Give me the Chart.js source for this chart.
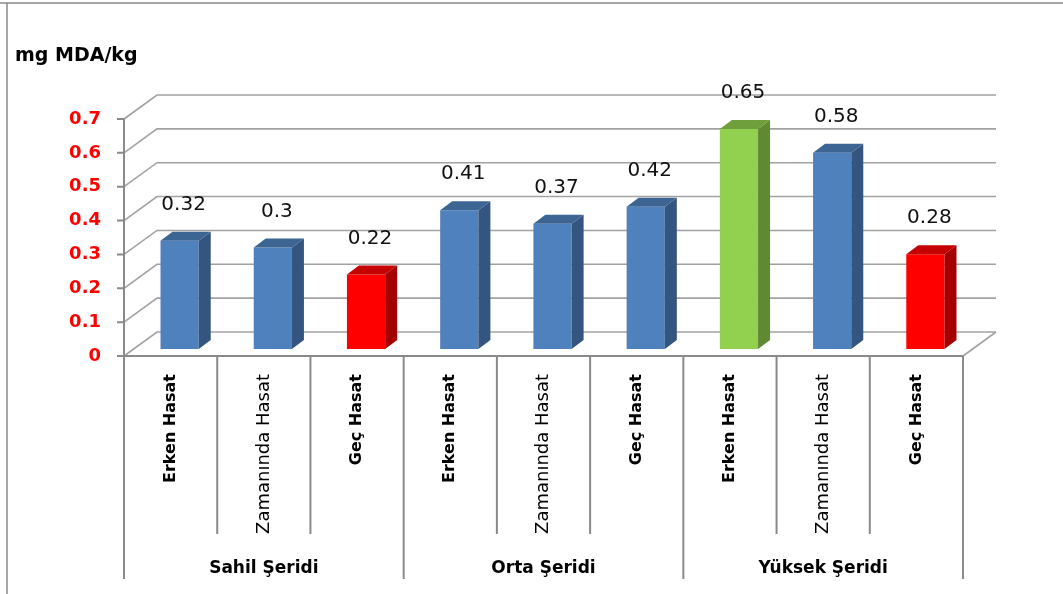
<!DOCTYPE html>
<html>
<head>
<meta charset="utf-8">
<script src="https://cdn.jsdelivr.net/npm/chart.js@4/dist/chart.umd.min.js"></script>
<style>
  html, body { margin: 0; padding: 0; background: #fff; }
  canvas { display: block; }
</style>
</head>
<body>
<canvas id="c" width="1063" height="594"></canvas>
<script>
// Malondialdehit (mg MDA/kg) by harvest time and region
const categories = [
  'Erken Hasat', 'Zamanında Hasat', 'Geç Hasat',
  'Erken Hasat', 'Zamanında Hasat', 'Geç Hasat',
  'Erken Hasat', 'Zamanında Hasat', 'Geç Hasat'
];
const groups = ['Sahil Şeridi', 'Orta Şeridi', 'Yüksek Şeridi'];
const values = [0.32, 0.3, 0.22, 0.41, 0.37, 0.42, 0.65, 0.58, 0.28];
const valueLabels = ['0.32', '0.3', '0.22', '0.41', '0.37', '0.42', '0.65', '0.58', '0.28'];
const yTickLabels = ['0', '0.1', '0.2', '0.3', '0.4', '0.5', '0.6', '0.7'];
const unitLabel = 'mg MDA/kg';

// colour scheme: front, side, top faces
const palette = {
  blue:  ['#4f81bd', '#33557f', '#3d6594'],
  red:   ['#ff0000', '#a50000', '#c40000'],
  green: ['#92d050', '#5f8a33', '#6f9f3c']
};
const barTone = ['blue', 'blue', 'red', 'blue', 'blue', 'blue', 'green', 'blue', 'red'];

// pseudo-3D geometry
const WALL = { dx: 33, dy: 24 };   // depth of side wall / floor
const SHIFT = { dx: 9, dy: 7 };    // bar row sits inside the box
const SIDE = { dx: 12, dy: 9 };    // bar thickness
const GRID = '#a2a2a2';
const AXIS = '#8a8a8a';

const view3d = {
  id: 'view3d',
  beforeDraw(chart) {
    const { ctx, width, height } = chart;
    ctx.save();
    ctx.fillStyle = '#fff';
    ctx.fillRect(0, 0, width, height);
    ctx.strokeStyle = AXIS;
    ctx.lineWidth = 1.5;
    ctx.beginPath();
    ctx.moveTo(0, 3); ctx.lineTo(width, 3);
    ctx.moveTo(7, 3); ctx.lineTo(7, height);
    ctx.stroke();
    // unit label
    ctx.fillStyle = '#000';
    ctx.font = 'bold 19px "DejaVu Sans"';
    ctx.textBaseline = 'alphabetic';
    ctx.textAlign = 'left';
    ctx.fillText(unitLabel, 15, 61);
    ctx.restore();
  },
  beforeDatasetsDraw(chart) {
    const { ctx, chartArea: a, scales: { y } } = chart;
    ctx.save();
    ctx.strokeStyle = GRID;
    ctx.lineWidth = 1.6;
    y.ticks.forEach(t => {
      const py = y.getPixelForValue(t.value);
      ctx.beginPath();
      ctx.moveTo(a.left, py);
      ctx.lineTo(a.left + WALL.dx, py - WALL.dy);
      ctx.lineTo(a.right + WALL.dx, py - WALL.dy);
      ctx.stroke();
    });
    // floor right edge
    const p0 = y.getPixelForValue(0);
    ctx.beginPath();
    ctx.moveTo(a.right, p0);
    ctx.lineTo(a.right + WALL.dx, p0 - WALL.dy);
    ctx.stroke();
    ctx.restore();
    // bars are drawn on the inner plane
    ctx.save();
    ctx.translate(SHIFT.dx, -SHIFT.dy);
  },
  afterDatasetsDraw(chart) {
    const { ctx } = chart;
    const meta = chart.getDatasetMeta(0);
    meta.data.forEach((bar, i) => {
      const { x, y, base, width } = bar.getProps(['x', 'y', 'base', 'width'], true);
      const [, side, top] = palette[barTone[i]];
      const r = x + width / 2, l = x - width / 2;
      ctx.fillStyle = side;
      ctx.beginPath();
      ctx.moveTo(r, y);
      ctx.lineTo(r + SIDE.dx, y - SIDE.dy);
      ctx.lineTo(r + SIDE.dx, base - SIDE.dy);
      ctx.lineTo(r, base);
      ctx.closePath();
      ctx.fill();
      ctx.fillStyle = top;
      ctx.beginPath();
      ctx.moveTo(l, y);
      ctx.lineTo(r, y);
      ctx.lineTo(r + SIDE.dx, y - SIDE.dy);
      ctx.lineTo(l + SIDE.dx, y - SIDE.dy);
      ctx.closePath();
      ctx.fill();
    });
    ctx.restore();

    // value labels
    ctx.save();
    ctx.fillStyle = '#111';
    ctx.font = '20px "DejaVu Sans"';
    ctx.textAlign = 'center';
    ctx.textBaseline = 'middle';
    meta.data.forEach((bar, i) => {
      const { x, y } = bar.getProps(['x', 'y'], true);
      ctx.fillText(valueLabels[i], x + SHIFT.dx + 4, y - SHIFT.dy - 36);
    });
    ctx.restore();
  },
  afterDraw(chart) {
    const { ctx, chartArea: a, scales: { x, y, x2 } } = chart;
    ctx.save();
    ctx.strokeStyle = AXIS;
    ctx.lineWidth = 2;
    // value axis with tick marks
    ctx.beginPath();
    ctx.moveTo(a.left, y.getPixelForValue(y.max));
    ctx.lineTo(a.left, a.bottom);
    y.ticks.forEach(t => {
      const py = y.getPixelForValue(t.value);
      ctx.moveTo(a.left - 7, py);
      ctx.lineTo(a.left, py);
    });
    // floor front edge
    ctx.moveTo(a.left, a.bottom);
    ctx.lineTo(a.right, a.bottom);
    ctx.stroke();
    // category separators
    const n = categories.length;
    const per = n / groups.length;
    ctx.beginPath();
    for (let i = 0; i <= n; i++) {
      let px;
      if (i === 0) px = a.left;
      else if (i === n) px = a.right;
      else px = (x.getPixelForValue(i - 1) + x.getPixelForValue(i)) / 2;
      const isGroupEdge = i % per === 0;
      ctx.moveTo(px, a.bottom);
      ctx.lineTo(px, isGroupEdge ? x2.bottom - 5 : x.bottom);
    }
    ctx.stroke();
    ctx.restore();
  }
};

new Chart(document.getElementById('c'), {
  type: 'bar',
  data: {
    labels: categories,
    datasets: [{
      data: values,
      backgroundColor: barTone.map(t => palette[t][0]),
      borderWidth: 0,
      barPercentage: 0.41,
      categoryPercentage: 1
    }]
  },
  options: {
    responsive: false,
    animation: false,
    layout: { padding: { left: 0, top: 119, right: 100, bottom: 10 } },
    plugins: {
      legend: { display: false },
      tooltip: { enabled: false },
      title: { display: false }
    },
    scales: {
      y: {
        min: 0,
        max: 0.7,
        afterFit(s) { s.width = 124; },
        grid: { display: false },
        border: { display: false },
        ticks: {
          stepSize: 0.1,
          padding: 15,
          color: '#ff0000',
          font: { family: 'DejaVu Sans', size: 18, weight: 'bold' },
          callback: v => yTickLabels[Math.round(v * 10)]
        }
      },
      x: {
        weight: 0,
        afterFit(s) { s.height = 178; },
        grid: { display: false },
        border: { display: false },
        ticks: {
          autoSkip: false,
          minRotation: 90,
          maxRotation: 90,
          padding: 10,
          color: '#000',
          font: ctx => (categories[ctx.index] === 'Zamanında Hasat'
            ? { family: 'DejaVu Sans', size: 18, weight: 'normal' }
            : { family: 'DejaVu Sans', size: 16, weight: 'bold' })
        }
      },
      x2: {
        type: 'category',
        position: 'bottom',
        weight: 1,
        labels: groups,
        offset: true,
        afterFit(s) { s.height = 50; },
        grid: { display: false },
        border: { display: false },
        ticks: {
          padding: 16,
          color: '#000',
          font: { family: 'DejaVu Sans', size: 17, weight: 'bold' }
        }
      }
    }
  },
  plugins: [view3d]
});
</script>
</body>
</html>
